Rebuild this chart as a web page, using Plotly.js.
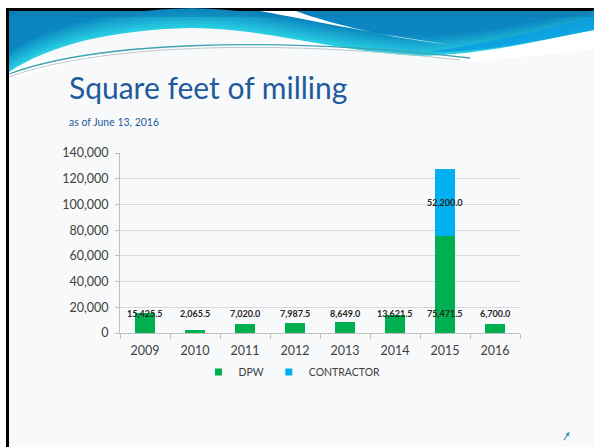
<!DOCTYPE html>
<html>
<head>
<meta charset="utf-8">
<script src="https://cdn.plot.ly/plotly-3.0.1.min.js"></script>
<style>html,body{margin:0;padding:0;background:#fff;}#chart{width:594px;height:447px;}</style>
</head>
<body>
<div id="chart"></div>
<script>
// ---- data ----
var years = ['2009', '2010', '2011', '2012', '2013', '2014', '2015', '2016'];
var dpw = [15425.5, 2065.5, 7020.0, 7987.5, 8649.0, 13621.5, 75471.5, 6700.0];
var contractor = [0, 0, 0, 0, 0, 0, 52200.0, 0];
var seriesNames = ['DPW', 'CONTRACTOR'];
var titleText = 'Square feet of milling';
var subtitleText = 'as of June 13, 2016';

// ---- helpers ----
var W = 594, H = 447;
function px(x) { return x / W; }
function py(y) { return 1 - y / H; }
function P(x, y) { return px(x).toFixed(5) + ',' + py(y).toFixed(5); }
function fmt(v) { return v.toLocaleString('en-US', {minimumFractionDigits: 1, maximumFractionDigits: 1}); }
function mix(c1, c2, t) {
  var a = [1, 3, 5].map(function (k) { return parseInt(c1.substr(k, 2), 16); });
  var b = [1, 3, 5].map(function (k) { return parseInt(c2.substr(k, 2), 16); });
  return 'rgb(' + a.map(function (v, j) { return Math.round(v + (b[j] - v) * t); }).join(',') + ')';
}

var FONT = 'Lato, "Open Sans", sans-serif';
var GREEN = '#00B050', BLUE = '#00B0F0';
var colors = [GREEN, BLUE];

var traces = [
  {type: 'bar', name: seriesNames[0], x: years, y: dpw, marker: {color: GREEN}, hoverinfo: 'skip', showlegend: false},
  {type: 'bar', name: seriesNames[1], x: years, y: contractor, marker: {color: BLUE}, hoverinfo: 'skip', showlegend: false}
];
seriesNames.forEach(function (n, k) {
  traces.push({type: 'scatter', mode: 'markers', name: n, x: [null], y: [null],
    marker: {symbol: 'square', size: 7, color: colors[k]}, hoverinfo: 'skip'});
});

// ---- decorative slide shapes (pixel coords -> paper) ----
var shapes = [];
shapes.push({type: 'rect', xref: 'paper', yref: 'paper', x0: px(9), x1: px(594), y0: py(447), y1: py(11),
  fillcolor: '#f8f9fa', line: {width: 0}, layer: 'below'});
shapes.push({type: 'rect', xref: 'paper', yref: 'paper', x0: px(6), x1: px(9), y0: py(447), y1: py(8),
  fillcolor: '#000', line: {width: 0}, layer: 'below'});
shapes.push({type: 'rect', xref: 'paper', yref: 'paper', x0: px(6), x1: px(594), y0: py(11), y1: py(8),
  fillcolor: '#000', line: {width: 0}, layer: 'below'});
shapes.push({type: 'path', xref: 'paper', yref: 'paper', layer: 'below', line: {width: 0}, fillcolor: '#ffffff',
  path: 'M' + P(9, 60) + ' L' + P(9, 80) + ' C' + P(120, 40) + ' ' + P(300, 38) + ' ' + P(470, 62) +
        ' L' + P(594, 50) + ' L' + P(594, 20) + ' Z'});
function headerPath(off) {
  return 'M' + P(9, 11) + ' L' + P(594, 11) + ' L' + P(594, 30 - off) +
    ' C' + P(540, 40 - off) + ' ' + P(490, 54 - off) + ' ' + P(420, 56 - off) +
    ' C' + P(340, 53 - off) + ' ' + P(260, 27 - off) + ' ' + P(190, 28 - off) +
    ' C' + P(110, 30 - off) + ' ' + P(50, 45 - off) + ' ' + P(9, 72 - off) + ' Z';
}
var NL = 10;
for (var s = 0; s < NL; s++) {
  shapes.push({type: 'path', xref: 'paper', yref: 'paper', layer: 'below', line: {width: 0},
    fillcolor: mix('#28cde2', '#0b86c0', s / (NL - 1)), path: headerPath(s * 2.2)});
}
shapes.push({type: 'path', xref: 'paper', yref: 'paper', layer: 'below', line: {width: 0}, fillcolor: '#0a9ee2', opacity: 0.85,
  path: 'M' + P(594, 16) + ' L' + P(594, 30) + ' C' + P(540, 40) + ' ' + P(490, 52) + ' ' + P(430, 52) +
        ' C' + P(480, 44) + ' ' + P(540, 32) + ' ' + P(594, 16) + ' Z'});
shapes.push({type: 'rect', xref: 'paper', yref: 'paper', layer: 'below', line: {width: 0}, fillcolor: '#0a78b0', opacity: 0.45,
  x0: px(9), x1: px(594), y0: py(17), y1: py(11)});
shapes.push({type: 'path', xref: 'paper', yref: 'paper', layer: 'below', line: {width: 0}, fillcolor: '#ffffff',
  path: 'M' + P(260, 11) + ' C' + P(320, 22) + ' ' + P(380, 35) + ' ' + P(452, 45) +
        ' C' + P(390, 38) + ' ' + P(330, 24) + ' ' + P(296, 11) + ' Z'});
shapes.push({type: 'path', xref: 'paper', yref: 'paper', layer: 'below', fillcolor: 'rgba(0,0,0,0)', line: {color: '#3fa3b0', width: 1.3},
  path: 'M' + P(9, 74) + ' C' + P(90, 44) + ' ' + P(260, 34) + ' ' + P(470, 58)});
shapes.push({type: 'path', xref: 'paper', yref: 'paper', layer: 'below', fillcolor: 'rgba(0,0,0,0)', line: {color: '#b9c9cc', width: 1},
  path: 'M' + P(9, 77) + ' C' + P(90, 47) + ' ' + P(260, 37) + ' ' + P(460, 60)});
shapes.push({type: 'path', xref: 'paper', yref: 'paper', fillcolor: 'rgba(0,0,0,0)', line: {color: '#3a93b4', width: 1.2},
  path: 'M' + P(564, 440) + ' L' + P(568, 434) + ' M' + P(566, 434) + ' L' + P(569, 433) + ' L' + P(568, 436)});

// ---- annotations ----
var annotations = [];
annotations.push({xref: 'paper', yref: 'paper', x: px(67), y: py(87), xanchor: 'left', yanchor: 'middle', showarrow: false,
  text: titleText, font: {family: FONT, size: 30, color: '#1f5b9c'}});
annotations.push({xref: 'paper', yref: 'paper', x: px(67), y: py(122), xanchor: 'left', yanchor: 'middle', showarrow: false,
  text: subtitleText, font: {family: FONT, size: 10.5, color: '#1f5b9c'}});
var LABEL_LEVEL = 15500;
for (var i = 0; i < years.length; i++) {
  annotations.push({xref: 'x', yref: 'y', x: i, y: LABEL_LEVEL, showarrow: false, yanchor: 'middle',
    text: '<b>' + fmt(dpw[i]) + '</b>', font: {family: FONT, size: 9, color: '#262626'}});
  if (contractor[i] > 0) {
    annotations.push({xref: 'x', yref: 'y', x: i, y: dpw[i] + contractor[i] / 2, showarrow: false, yanchor: 'middle',
      text: '<b>' + fmt(contractor[i]) + '</b>', font: {family: FONT, size: 9, color: '#262626'}});
  }
}

var layout = {
  width: W, height: H,
  margin: {l: 0, r: 0, t: 0, b: 0, pad: 0},
  paper_bgcolor: '#ffffff', plot_bgcolor: 'rgba(0,0,0,0)',
  barmode: 'stack', bargap: 0.6,
  showlegend: true,
  legend: {orientation: 'h', x: px(292), xanchor: 'center', y: py(372), yanchor: 'middle', itemwidth: 30,
    font: {family: FONT, size: 10.5, color: '#404040'}, bgcolor: 'rgba(0,0,0,0)', traceorder: 'normal'},
  xaxis: {domain: [px(120), px(520)], type: 'category', range: [-0.5, years.length - 0.5], autorange: false,
    tickson: 'boundaries', ticks: 'outside', ticklen: 5,
    tickcolor: '#bfbfbf', showline: true, linecolor: '#bfbfbf', showgrid: false, ticklabelstandoff: 6, tickangle: 0,
    tickfont: {family: FONT, size: 12.5, color: '#404040'}, fixedrange: true},
  yaxis: {domain: [py(333), py(153)], range: [0, 140000], autorange: false, dtick: 20000, tickformat: ',d', ticks: 'outside', ticklen: 4,
    tickcolor: '#bfbfbf', showline: true, linecolor: '#bfbfbf', gridcolor: '#d9d9d9', zeroline: false,
    ticklabelstandoff: 4, tickfont: {family: FONT, size: 12.5, color: '#404040'}, fixedrange: true},
  shapes: shapes,
  annotations: annotations
};

Plotly.newPlot('chart', traces, layout, {displayModeBar: false, staticPlot: true});
</script>
</body>
</html>
